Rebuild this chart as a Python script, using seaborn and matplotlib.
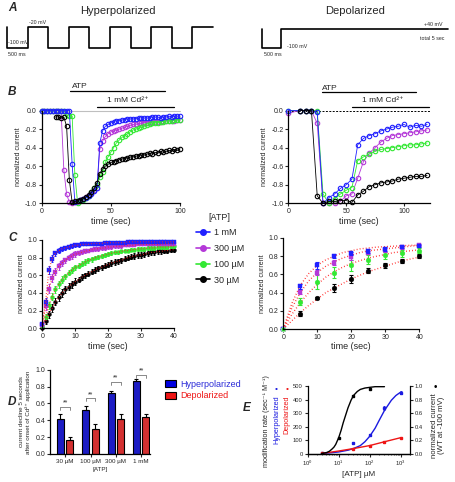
import matplotlib

matplotlib.use("Agg")
import matplotlib.pyplot as plt
import matplotlib.transforms as mtransforms
import numpy as np
import pandas as pd
import seaborn as sns
from matplotlib.lines import Line2D
from matplotlib.patches import Patch
from matplotlib.ticker import FormatStrFormatter

FIG_W, FIG_H = 456, 482

ATP_LEVELS = ["1 mM", "300 µM", "100 µM", "30 µM"]
COLORS = {"1 mM": "#2020ff", "300 µM": "#b438d8", "100 µM": "#33e833", "30 µM": "#000000"}
HYPER_BLUE = "#0000e0"
DEPOL_RED = "#ee1515"

# A: voltage protocols (s, mV), drawn as steps
hyper_times = [0, 0, 0.5, 1.0, 1.5, 2.0, 2.5, 3.0, 3.5, 4.0, 4.5, 5.0]
hyper_mv = [-20, -100, -20, -100, -20, -100, -20, -100, -20, -100, -20, -20]
depol_times = [0, 0, 0.5, 5.0]
depol_mv = [40, -100, 40, 40]

# B left: hyperpolarized traces, sampled every 2 s
b_left_time = np.arange(0, 101, 2)
b_left = {
    "1 mM": [0, 0, 0, 0, 0, 0, 0, 0, 0, 0, 0,
             -0.58, -0.99, -0.97, -0.96, -0.95, -0.94, -0.92, -0.90, -0.87, -0.84,
             -0.35, -0.22, -0.17, -0.15, -0.13, -0.12, -0.11, -0.11, -0.10, -0.10,
             -0.09, -0.09, -0.09, -0.09, -0.08, -0.08, -0.08, -0.08, -0.08, -0.07,
             -0.07, -0.07, -0.08, -0.07, -0.07, -0.06, -0.07, -0.06, -0.06, -0.06],
    "300 µM": [0, 0, 0, 0, 0, 0, 0, 0,
               -0.64, -0.90, -0.99, -1.0, -0.99, -0.97, -0.96, -0.95, -0.93, -0.91, -0.89, -0.86, -0.83,
               -0.42, -0.33, -0.28, -0.25, -0.23, -0.22, -0.21, -0.20, -0.19, -0.18,
               -0.17, -0.16, -0.15, -0.15, -0.14, -0.14, -0.13, -0.13, -0.13, -0.12,
               -0.12, -0.12, -0.12, -0.11, -0.11, -0.11, -0.11, -0.11, -0.10, -0.10],
    "100 µM": [0, 0, 0, 0, 0, 0, 0, 0, 0,
               -0.05, -0.06, -0.06,
               -0.70, -1.0, -0.98, -0.96, -0.94, -0.92, -0.88, -0.84, -0.80,
               -0.72, -0.66, -0.56, -0.50, -0.45, -0.40, -0.35, -0.32, -0.29, -0.27,
               -0.25, -0.23, -0.21, -0.20, -0.19, -0.18, -0.17, -0.16, -0.15, -0.14,
               -0.13, -0.13, -0.12, -0.12, -0.11, -0.11, -0.11, -0.10, -0.10, -0.10],
    "30 µM": [np.nan, np.nan, np.nan, np.nan, np.nan,
              -0.07, -0.07, -0.08, -0.07, -0.17, -0.75, -0.99, -0.98, -0.97, -0.96, -0.95,
              -0.93, -0.91, -0.88, -0.84, -0.78,
              -0.68, -0.63, -0.60, -0.58, -0.56, -0.55, -0.54, -0.53, -0.52, -0.52,
              -0.51, -0.50, -0.50, -0.49, -0.49, -0.48, -0.48, -0.47, -0.46, -0.47,
              -0.45, -0.46, -0.44, -0.45, -0.44, -0.43, -0.44, -0.42, -0.43, -0.41],
}

# B right: depolarized traces
b_right_time = [0, 10, 15, 20, 25, 30, 35, 40, 45, 50, 55, 60, 65, 70, 75, 80,
                85, 90, 95, 100, 105, 110, 115, 120]
b_right = {
    "1 mM": [0.0, 0.0, 0.0, 0.0, -0.02, -1.0, -0.94, -0.90, -0.84, -0.80, -0.74, -0.37,
             -0.30, -0.27, -0.25, -0.22, -0.20, -0.18, -0.17, -0.15, -0.18, -0.16, -0.17, -0.15],
    "300 µM": [-0.03, 0.0, 0.0, 0.0, -0.14, -1.0, -1.0, -1.0, -0.98, -0.92, -0.90, -0.73,
               -0.55, -0.46, -0.40, -0.34, -0.30, -0.27, -0.26, -0.25, -0.24, -0.23, -0.22, -0.21],
    "100 µM": [0.0, 0.0, 0.0, 0.0, 0.0, -0.90, -1.0, -0.95, -0.90, -0.86, -0.83, -0.54,
               -0.50, -0.47, -0.44, -0.42, -0.41, -0.40, -0.39, -0.38, -0.37, -0.37, -0.36, -0.35],
    "30 µM": [np.nan, 0.0, 0.0, 0.0, -0.92, -1.0, -0.98, -0.98, -0.97, -0.97, -0.99, -0.91,
              -0.87, -0.82, -0.80, -0.78, -0.77, -0.76, -0.74, -0.73, -0.72, -0.71, -0.71, -0.70],
}
atp_window_left, cd_window_left = (20.5, 89), (40, 96)
atp_window_right, cd_window_right = (29, 110), (55, 122)

# C left: recovery (hyperpolarized), every 1 s
c_left_time = np.arange(0, 41)
c_left = {
    "1 mM": [0.05, 0.30, 0.66, 0.79, 0.85, 0.88, 0.90, 0.91, 0.92, 0.93, 0.94,
             0.94, 0.95, 0.95, 0.95, 0.96, 0.96, 0.96, 0.96, 0.97, 0.97,
             0.97, 0.97, 0.97, 0.97, 0.97, 0.98, 0.98, 0.98, 0.98, 0.98,
             0.98, 0.98, 0.98, 0.98, 0.98, 0.98, 0.98, 0.98, 0.98, 0.98],
    "300 µM": [0.04, 0.25, 0.45, 0.57, 0.64, 0.70, 0.74, 0.77, 0.80, 0.82, 0.84,
               0.85, 0.86, 0.87, 0.88, 0.89, 0.90, 0.90, 0.91, 0.91, 0.92,
               0.92, 0.93, 0.93, 0.93, 0.94, 0.94, 0.94, 0.94, 0.95, 0.95,
               0.95, 0.95, 0.95, 0.95, 0.95, 0.95, 0.96, 0.96, 0.96, 0.96],
    "100 µM": [0.03, 0.13, 0.26, 0.36, 0.44, 0.50, 0.55, 0.59, 0.63, 0.66, 0.69,
               0.71, 0.73, 0.75, 0.77, 0.78, 0.80, 0.81, 0.82, 0.83, 0.84,
               0.85, 0.86, 0.86, 0.87, 0.88, 0.88, 0.89, 0.89, 0.90, 0.90,
               0.90, 0.91, 0.91, 0.91, 0.92, 0.92, 0.92, 0.92, 0.93, 0.93],
    "30 µM": [0.00, 0.08, 0.16, 0.23, 0.30, 0.35, 0.40, 0.44, 0.47, 0.50, 0.53,
              0.55, 0.58, 0.60, 0.62, 0.64, 0.66, 0.68, 0.69, 0.71, 0.72,
              0.74, 0.75, 0.76, 0.77, 0.79, 0.80, 0.81, 0.82, 0.83, 0.83,
              0.84, 0.85, 0.86, 0.86, 0.87, 0.87, 0.88, 0.88, 0.89, 0.89],
}
c_left_err = {
    "1 mM": [0.01, 0.04, 0.05, 0.04, 0.03, 0.03, 0.02, 0.02, 0.02, 0.02, 0.02,
             0.02, 0.01, 0.01, 0.01, 0.01, 0.01, 0.01, 0.01, 0.01, 0.01,
             0.01, 0.01, 0.01, 0.01, 0.01, 0.01, 0.01, 0.01, 0.01, 0.01,
             0.01, 0.01, 0.01, 0.01, 0.01, 0.01, 0.01, 0.01, 0.01, 0.01],
    "300 µM": [0.01, 0.04, 0.05, 0.05, 0.04, 0.04, 0.03, 0.03, 0.03, 0.03, 0.03,
               0.02, 0.02, 0.02, 0.02, 0.02, 0.02, 0.02, 0.02, 0.02, 0.02,
               0.02, 0.02, 0.02, 0.02, 0.01, 0.01, 0.01, 0.01, 0.01, 0.01,
               0.01, 0.01, 0.01, 0.01, 0.01, 0.01, 0.01, 0.01, 0.01, 0.01],
    "100 µM": [0.01, 0.03, 0.04, 0.04, 0.04, 0.04, 0.04, 0.03, 0.03, 0.03, 0.03,
               0.03, 0.03, 0.03, 0.03, 0.03, 0.02, 0.02, 0.02, 0.02, 0.02,
               0.02, 0.02, 0.02, 0.02, 0.02, 0.02, 0.02, 0.02, 0.02, 0.02,
               0.02, 0.02, 0.02, 0.02, 0.02, 0.02, 0.02, 0.02, 0.02, 0.02],
    "30 µM": [0.01, 0.03, 0.04, 0.04, 0.04, 0.04, 0.04, 0.04, 0.04, 0.04, 0.04,
              0.03, 0.03, 0.03, 0.03, 0.03, 0.03, 0.03, 0.03, 0.03, 0.03,
              0.03, 0.03, 0.03, 0.03, 0.03, 0.03, 0.03, 0.03, 0.03, 0.03,
              0.03, 0.03, 0.03, 0.03, 0.03, 0.03, 0.03, 0.03, 0.03, 0.03],
}

# C right: recovery (depolarized), every 5 s, with exponential fits
c_right_time = [0, 5, 10, 15, 20, 25, 30, 35, 40]
c_right = {
    "1 mM": [0, 0.47, 0.70, 0.80, 0.83, 0.86, 0.88, 0.90, 0.91],
    "300 µM": [0, 0.41, 0.62, 0.73, 0.79, 0.84, 0.87, 0.90, 0.92],
    "100 µM": [0, 0.30, 0.52, 0.62, 0.70, 0.76, 0.81, 0.83, 0.86],
    "30 µM": [0, 0.17, 0.34, 0.45, 0.55, 0.64, 0.70, 0.75, 0.80],
}
c_right_err = {
    "1 mM": [0, 0.03, 0.04, 0.02, 0.02, 0.02, 0.02, 0.01, 0.01],
    "300 µM": [0, 0.03, 0.03, 0.03, 0.03, 0.02, 0.02, 0.02, 0.01],
    "100 µM": [0, 0.04, 0.08, 0.06, 0.06, 0.05, 0.04, 0.04, 0.03],
    "30 µM": [0, 0.03, 0.01, 0.04, 0.04, 0.03, 0.03, 0.02, 0.02],
}
c_fit_time = [0, 2.5, 5, 7.5, 10, 12.5, 15, 17.5, 20, 22.5, 25, 27.5, 30, 32.5, 35, 37.5, 40]
c_fit = {
    "1 mM": [0, 0.28, 0.48, 0.61, 0.70, 0.76, 0.80, 0.84, 0.86, 0.88, 0.89, 0.90, 0.905, 0.91, 0.915, 0.92, 0.92],
    "300 µM": [0, 0.23, 0.40, 0.53, 0.62, 0.69, 0.74, 0.78, 0.81, 0.84, 0.86, 0.87, 0.88, 0.89, 0.90, 0.91, 0.92],
    "100 µM": [0, 0.16, 0.29, 0.40, 0.49, 0.57, 0.63, 0.68, 0.72, 0.75, 0.78, 0.80, 0.82, 0.84, 0.85, 0.86, 0.87],
    "30 µM": [0, 0.09, 0.18, 0.26, 0.33, 0.40, 0.45, 0.50, 0.55, 0.59, 0.63, 0.66, 0.69, 0.72, 0.75, 0.77, 0.79],
}

# D: current decline 5 s after Cd2+ onset
d_atp = ["30 µM", "100 µM", "300 µM", "1 mM"]
d_hyper = [0.41, 0.52, 0.72, 0.87]
d_hyper_err = [0.06, 0.05, 0.03, 0.02]
d_depol = [0.17, 0.30, 0.41, 0.44]
d_depol_err = [0.03, 0.06, 0.06, 0.04]
d_sig_height = [0.56, 0.66, 0.86, 0.94]

# E: modification rates and WT normalized current
e_conc = [3, 30, 100, 300, 1000]
e_hyper_rate = [5, 80, 140, 340, 450]
e_hyper_err = [0, 5, 10, 15, 10]
e_depol_rate = [5, 40, 60, 90, 120]
e_depol_err = [0, 4, 5, 6, 6]
e_wt_conc = [3, 10, 30, 100]
e_wt_current = [0.0, 0.24, 0.86, 0.96]
e_fit_hyper_conc = [3, 5, 10, 20, 30, 50, 70, 100, 150, 200, 300, 500, 700, 1000]
e_fit_hyper_rate = [5, 8, 15, 28, 40, 62, 90, 130, 190, 245, 320, 395, 430, 455]
e_fit_depol_conc = [3, 10, 30, 100, 300, 1000]
e_fit_depol_rate = [5, 22, 40, 62, 90, 120]
e_fit_wt_conc = [3, 4, 5, 6, 7, 8, 10, 12, 14, 17, 20, 25, 30, 40, 50, 70, 100, 150, 200, 300]
e_fit_wt_current = [0.01, 0.02, 0.04, 0.07, 0.10, 0.14, 0.24, 0.35, 0.46, 0.58, 0.68, 0.79,
                    0.86, 0.92, 0.95, 0.97, 0.98, 0.99, 0.99, 0.99]


def px_axes(fig, left, top, right, bottom):
    return fig.add_axes([left / FIG_W, 1 - bottom / FIG_H, (right - left) / FIG_W, (bottom - top) / FIG_H])


def fig_text(fig, x, y, s, **kw):
    kw.setdefault("va", "center")
    return fig.text(x / FIG_W, 1 - y / FIG_H, s, **kw)


def style_axes(ax):
    sns.despine(ax=ax)
    ax.tick_params(length=2, width=0.8, pad=1.5)


def draw_protocol(fig, box, times, mv, ylim):
    ax = px_axes(fig, *box)
    sns.lineplot(x=times, y=mv, ax=ax, color="black", lw=1.2, drawstyle="steps-post",
                 estimator=None, sort=False)
    ax.set_xlim(0, 5)
    ax.set_ylim(*ylim)
    ax.axis("off")
    for line in ax.lines:
        line.set_clip_on(False)


def draw_traces(fig, ax, times, traces, order, atp_window, cd_window, bar_y):
    for name in order:
        vals = np.asarray(traces[name], dtype=float)
        keep = ~np.isnan(vals)
        sns.lineplot(x=np.asarray(times)[keep], y=vals[keep], ax=ax, color=COLORS[name], lw=0.6,
                     marker="o", markersize=3.2, markerfacecolor="none",
                     markeredgecolor=COLORS[name], markeredgewidth=0.8,
                     estimator=None, sort=False)
    for line in ax.lines:
        line.set_clip_on(False)
    ax.set_ylim(-1.0, 0.0)
    ax.set_yticks([-1.0, -0.8, -0.6, -0.4, -0.2, 0.0])
    ax.yaxis.set_major_formatter(FormatStrFormatter("%.1f"))
    ax.set_xticks([0, 50, 100])
    ax.set_xlabel("time (sec)", fontsize=6.5, labelpad=1)
    ax.set_ylabel("normalized current", fontsize=5, labelpad=2)
    style_axes(ax)

    trans = mtransforms.blended_transform_factory(ax.transData, fig.transFigure)
    atp_y, cd_y = bar_y
    ax.plot(atp_window, [1 - atp_y / FIG_H] * 2, color="black", lw=0.9, transform=trans, clip_on=False)
    ax.plot(cd_window, [1 - cd_y / FIG_H] * 2, color="black", lw=0.9, transform=trans, clip_on=False)
    ax.text(atp_window[0] + 7, 1 - (atp_y - 4) / FIG_H, "ATP", transform=trans,
            ha="center", va="center", fontsize=6)
    cd_mid = cd_window[0] + 0.4 * (cd_window[1] - cd_window[0])
    ax.text(cd_mid, 1 - (cd_y - 6) / FIG_H, "1 mM Cd²⁺", transform=trans,
            ha="center", va="center", fontsize=6)


def draw_recovery_axes(ax):
    ax.set_xlim(0, 40)
    ax.set_ylim(0, 1.0)
    ax.set_xticks([0, 10, 20, 30, 40])
    ax.set_yticks([0.0, 0.2, 0.4, 0.6, 0.8, 1.0])
    ax.yaxis.set_major_formatter(FormatStrFormatter("%.1f"))
    ax.set_xlabel("time (sec)", fontsize=6.5, labelpad=1)
    ax.set_ylabel("normalized current", fontsize=5, labelpad=2)
    style_axes(ax)


def main():
    sns.set_style("ticks")
    plt.rcParams["font.family"] = ["Liberation Sans", "DejaVu Sans"]
    plt.rcParams["axes.unicode_minus"] = False
    plt.rcParams["xtick.labelsize"] = 5
    plt.rcParams["ytick.labelsize"] = 5
    plt.rcParams["axes.linewidth"] = 0.9
    plt.rcParams["axes.edgecolor"] = "black"
    plt.rcParams["mathtext.fontset"] = "custom"
    plt.rcParams["mathtext.rm"] = "Liberation Sans"

    fig = plt.figure(figsize=(FIG_W / 100, FIG_H / 100), dpi=100)
    letter = dict(fontsize=8.5, fontweight="bold", fontstyle="italic")

    # ---- A
    fig_text(fig, 8, 8, "A", **letter)
    fig_text(fig, 118, 11, "Hyperpolarized", fontsize=8, ha="center")
    fig_text(fig, 355, 11, "Depolarized", fontsize=8, ha="center")
    draw_protocol(fig, (7, 27, 213, 48), hyper_times, hyper_mv, (-100, -20))
    draw_protocol(fig, (262, 29.5, 448, 48), depol_times, depol_mv, (-100, 40))
    small = dict(fontsize=3.8)
    fig_text(fig, 29, 22, "-20 mV", **small)
    fig_text(fig, 8, 43, "-100 mV", **small)
    fig_text(fig, 8, 54, "500 ms", **small)
    fig_text(fig, 443, 24, "+40 mV", ha="right", **small)
    fig_text(fig, 444, 38, "total 5 sec", ha="right", **small)
    fig_text(fig, 287, 47, "-100 mV", **small)
    fig_text(fig, 264, 55, "500 ms", **small)

    # ---- B
    fig_text(fig, 8, 92, "B", **letter)
    order = ["300 µM", "100 µM", "1 mM", "30 µM"]
    ax_bl = px_axes(fig, 41.7, 110.5, 180, 203.3)
    ax_bl.axhline(0, color="0.75", lw=0.8, zorder=0)
    draw_traces(fig, ax_bl, b_left_time, b_left, order, atp_window_left, cd_window_left, (91, 107))
    ax_bl.set_xlim(0, 100)

    ax_br = px_axes(fig, 288.3, 110.5, 430, 203.3)
    ax_br.axhline(0, color="black", lw=0.7, ls=(0, (2, 1.5)), zorder=0)
    draw_traces(fig, ax_br, b_right_time, b_right, order, atp_window_right, cd_window_right, (92, 107))
    ax_br.set_xlim(0, 122.5)

    # ---- C
    fig_text(fig, 8, 238, "C", **letter)
    markers = {"1 mM": "s", "300 µM": "s", "100 µM": "o", "30 µM": "o"}
    ax_cl = px_axes(fig, 42.3, 240, 174, 328.3)
    for name in ["30 µM", "100 µM", "300 µM", "1 mM"]:
        ax_cl.errorbar(c_left_time, c_left[name], yerr=c_left_err[name], fmt="none",
                       ecolor=COLORS[name], elinewidth=0.7, capsize=1, capthick=0.7)
        sns.lineplot(x=c_left_time, y=c_left[name], ax=ax_cl, color=COLORS[name], lw=0,
                     marker=markers[name], markersize=2.8, markeredgecolor=COLORS[name],
                     markeredgewidth=0.3, estimator=None, sort=False)
    for name in ATP_LEVELS:
        sns.lineplot(x=c_left_time, y=c_left[name], ax=ax_cl, color="#ff2020", lw=0.9,
                     ls=(0, (0.6, 1.6)), estimator=None, sort=False)
    draw_recovery_axes(ax_cl)
    for line in ax_cl.lines:
        line.set_clip_on(False)

    ax_cr = px_axes(fig, 283.3, 238, 419.3, 329)
    for name in ATP_LEVELS:
        sns.lineplot(x=c_fit_time, y=c_fit[name], ax=ax_cr, color="#ff2020", lw=1.0,
                     ls=(0, (0.6, 1.6)), estimator=None, sort=False)
    for name in ["30 µM", "100 µM", "300 µM", "1 mM"]:
        ax_cr.errorbar(c_right_time, c_right[name], yerr=c_right_err[name], fmt="none",
                       ecolor=COLORS[name], elinewidth=0.8, capsize=1.3, capthick=0.8)
        sns.lineplot(x=c_right_time, y=c_right[name], ax=ax_cr, color=COLORS[name], lw=0,
                     marker=markers[name], markersize=3.4, markeredgecolor=COLORS[name],
                     markeredgewidth=0.3, estimator=None, sort=False)
    sns.lineplot(x=c_right_time[:1], y=c_right["100 µM"][:1], ax=ax_cr, color=COLORS["100 µM"],
                 lw=0, marker="o", markersize=3.4, markeredgewidth=0.3, estimator=None)
    draw_recovery_axes(ax_cr)
    for line in ax_cr.lines:
        line.set_clip_on(False)

    handles = [Line2D([], [], color=COLORS[n], marker="o", markersize=4, lw=1.2) for n in ATP_LEVELS]
    fig.legend(handles, ATP_LEVELS, loc="upper left", bbox_to_anchor=(191 / FIG_W, 1 - 208 / FIG_H),
               frameon=False, fontsize=6.5, title="[ATP]", title_fontsize=6.5,
               handlelength=1.6, handletextpad=0.4, labelspacing=0.75, borderpad=0)

    # ---- D
    fig_text(fig, 8, 402, "D", **letter)
    ax_d = px_axes(fig, 50, 369.8, 150, 454)
    d_df = pd.DataFrame({
        "atp": d_atp * 2,
        "condition": ["Hyperpolarized"] * len(d_atp) + ["Depolarized"] * len(d_atp),
        "value": d_hyper + d_depol,
    })
    sns.barplot(data=d_df, x="atp", y="value", hue="condition", order=d_atp,
                hue_order=["Hyperpolarized", "Depolarized"], palette=[HYPER_BLUE, DEPOL_RED],
                width=0.75, gap=0.25, edgecolor="black", linewidth=0.8, errorbar=None,
                legend=False, ax=ax_d)
    bars = sorted(ax_d.patches, key=lambda p: p.get_x())
    errs = [e for pair in zip(d_hyper_err, d_depol_err) for e in pair]
    xs = [b.get_x() + b.get_width() / 2 for b in bars]
    hs = [b.get_height() for b in bars]
    ax_d.errorbar(xs, hs, yerr=[[0] * len(errs), errs], fmt="none", ecolor="black",
                  elinewidth=0.8, capsize=1.6, capthick=0.8)
    for i, h in enumerate(d_sig_height):
        x0, x1 = xs[2 * i], xs[2 * i + 1]
        ax_d.plot([x0, x0, x1, x1], [h - 0.035, h, h, h - 0.035], color="0.35", lw=0.5)
        ax_d.text((x0 + x1) / 2, h + 0.005, "**", ha="center", va="bottom", fontsize=5)
    ax_d.set_xlim(-0.6, 3.35)
    ax_d.set_ylim(0, 1.0)
    ax_d.set_yticks([0.0, 0.2, 0.4, 0.6, 0.8, 1.0])
    ax_d.yaxis.set_major_formatter(FormatStrFormatter("%.1f"))
    ax_d.tick_params(axis="x", labelsize=4.5)
    ax_d.set_xlabel("[ATP]", fontsize=4.5, labelpad=2)
    ax_d.set_ylabel("current decline 5 seconds\nafter onset of Cd²⁺ application", fontsize=4.5,
                    labelpad=3, linespacing=1.2)
    style_axes(ax_d)

    d_handles = [Patch(facecolor=HYPER_BLUE, edgecolor="black", lw=0.8),
                 Patch(facecolor=DEPOL_RED, edgecolor="black", lw=0.8)]
    fig.legend(d_handles, ["Hyperpolarized", "Depolarized"], labelcolor=["#2b2bd8", DEPOL_RED],
               loc="upper left", bbox_to_anchor=(160 / FIG_W, 1 - 375 / FIG_H), frameon=False,
               fontsize=6.5, handlelength=1.3, handleheight=0.8, handletextpad=0.4,
               labelspacing=0.3, borderpad=0)

    # ---- E
    fig_text(fig, 243, 408, "E", **letter)
    ax_e = px_axes(fig, 307.7, 386, 410, 454)
    ax_e.set_xscale("log")
    sns.lineplot(x=e_fit_hyper_conc, y=e_fit_hyper_rate, ax=ax_e, color="#1a1ae0", lw=1.0,
                 estimator=None, sort=False)
    sns.lineplot(x=e_fit_depol_conc, y=e_fit_depol_rate, ax=ax_e, color=DEPOL_RED, lw=1.0,
                 estimator=None, sort=False)
    ax_e.errorbar(e_conc, e_hyper_rate, yerr=e_hyper_err, fmt="s", color="#1a1ae0", ms=2,
                  elinewidth=0.6, capsize=1, capthick=0.6)
    ax_e.errorbar(e_conc, e_depol_rate, yerr=e_depol_err, fmt="s", color=DEPOL_RED, ms=2,
                  elinewidth=0.6, capsize=1, capthick=0.6)
    ax_e.set_xlim(1, 2000)
    ax_e.set_ylim(0, 500)
    ax_e.set_yticks([0, 100, 200, 300, 400, 500])
    ax_e.set_xticks([1, 10, 100, 1000])
    ax_e.set_xticklabels(["$10^0$", "$10^1$", "$10^2$", "$10^3$"])
    ax_e.tick_params(labelsize=4.2, length=2, width=0.8, pad=1.5)
    ax_e.tick_params(which="minor", length=1, width=0.5)
    ax_e.set_xlabel("[ATP] µM", fontsize=5.8, labelpad=2)
    sns.despine(ax=ax_e, right=True)

    ax_w = ax_e.twinx()
    sns.lineplot(x=e_fit_wt_conc, y=e_fit_wt_current, ax=ax_w, color="black", lw=1.0,
                 estimator=None, sort=False)
    ax_w.errorbar(e_wt_conc, e_wt_current, fmt="s", color="black", ms=2)
    ax_w.set_ylim(0, 1.0)
    ax_w.set_yticks([0.0, 0.2, 0.4, 0.6, 0.8, 1.0])
    ax_w.yaxis.set_major_formatter(FormatStrFormatter("%.1f"))
    ax_w.tick_params(labelsize=4.2, length=2, width=0.8, pad=1.5)
    ax_w.spines["top"].set_visible(False)
    ax_w.spines["left"].set_visible(False)

    fig_text(fig, 266, 421, "modification rate (sec⁻¹ M⁻¹)", fontsize=5.2, rotation=90, ha="center")
    fig_text(fig, 276.5, 395, "Hyperpolarized", fontsize=5.2, rotation=90, ha="center", va="top",
             color="#1a1ae0")
    fig_text(fig, 287, 395, "Depolarized", fontsize=5.2, rotation=90, ha="center", va="top",
             color=DEPOL_RED)
    fig_text(fig, 276.5, 389, "•", fontsize=6, ha="center", color="#1a1ae0")
    fig_text(fig, 287, 389, "•", fontsize=6, ha="center", color=DEPOL_RED)
    fig_text(fig, 435, 387, "•", fontsize=7, ha="center", color="black")
    fig_text(fig, 438, 393, "normalized current\n(WT at -100 mV)", fontsize=5.6, rotation=90,
             ha="center", va="top", linespacing=1.1)

    fig.savefig("out.png", dpi=100)
    plt.close(fig)


if __name__ == "__main__":
    main()
